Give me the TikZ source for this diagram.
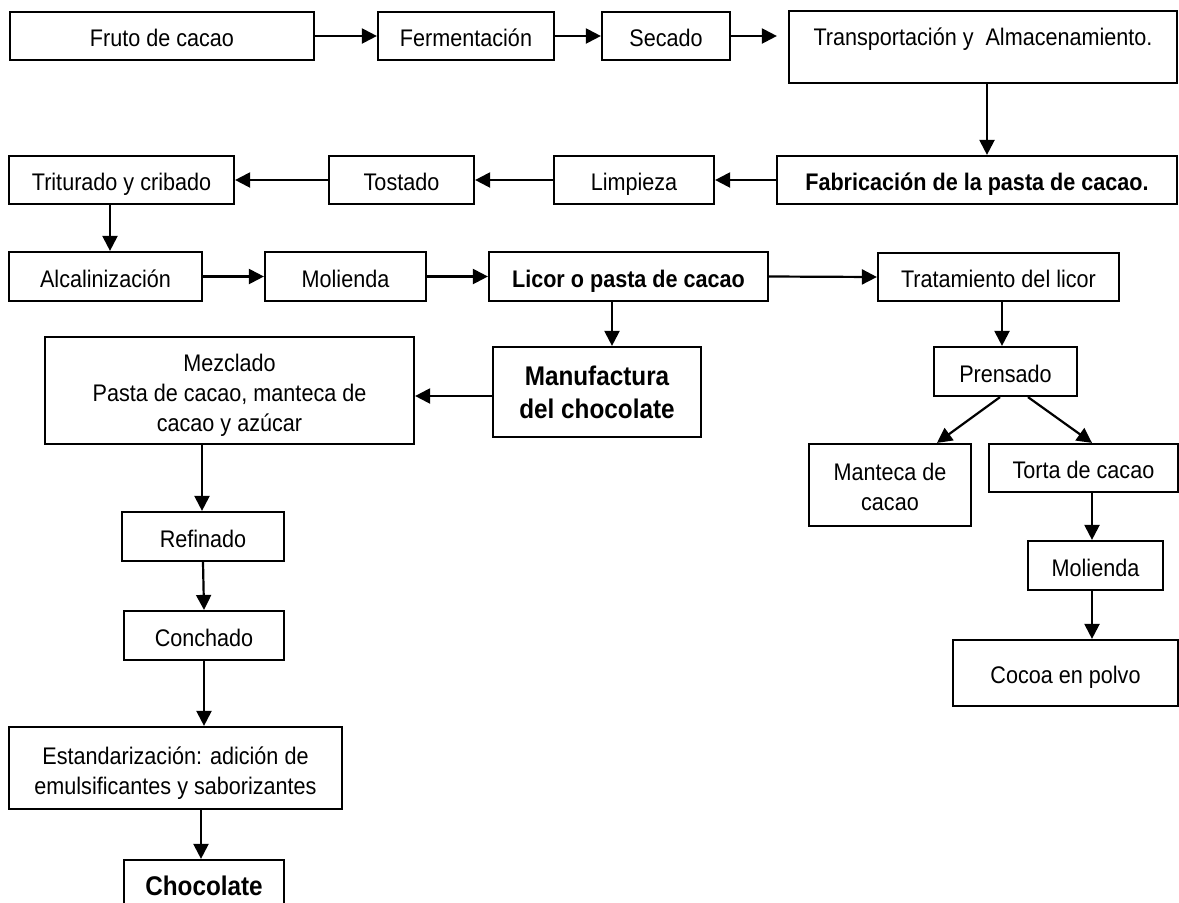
\documentclass[tikz,border=0pt]{standalone}
\usepackage{fontspec}
\setmainfont[FakeStretch=0.9]{Liberation Sans}
\usetikzlibrary{arrows.meta}
\begin{document}
\begin{tikzpicture}[x=1pt,y=-1pt,
  box/.style={draw,line width=2.2pt,rectangle,inner sep=0pt,align=center,
              font=\fontsize{24}{30}\selectfont},
  one/.style={text height=21pt,text depth=0pt},
  bbox/.style={box,one,font=\fontsize{24}{30}\selectfont\bfseries},
  big/.style={box,font=\fontsize{27}{33}\selectfont\bfseries},
  wh/.style 2 args={minimum width=#1pt,minimum height=#2pt},
  arr/.style={line width=2.2pt,-{Triangle[length=15pt,width=15pt]}},
]
\clip (0,0) rectangle (1179,903);

% row 1
\node[box,one,wh={304}{48}] (fruto)  at (162,36)  {Fruto de cacao};
\node[box,one,wh={176}{48}] (ferm)   at (466,36)  {Fermentación};
\node[box,one,wh={128}{48}] (secado) at (666,36)  {Secado};
\node[box,wh={388}{72}] (transp) at (983,47)  {};
\node[one,inner sep=0pt,font=\fontsize{24}{30}\selectfont] (transptxt) at (983,34.7)
  {Transportación y\ \ Almacenamiento.};

% row 2
\node[bbox,wh={400}{48}]    (fabric) at (977,180)   {Fabricación de la pasta de cacao.};
\node[box,one,wh={160}{48}] (limp)   at (634,180)   {Limpieza};
\node[box,one,wh={145}{48}] (tost)   at (401.5,180) {Tostado};
\node[box,one,wh={225}{48}] (trit)   at (121.5,180) {Triturado y cribado};

% row 3
\node[box,one,wh={193}{49}] (alcal) at (105.5,276.5) {Alcalinización};
\node[box,one,wh={161}{49}] (moli1) at (345.5,276.5) {Molienda};
\node[bbox,wh={279}{49}]    (licor) at (628.5,276.5) {Licor o pasta de cacao};
\node[box,one,wh={241}{48}] (trat)  at (998.5,277)   {Tratamiento del licor};

% chocolate branch
\node[big,wh={208}{90}]      (manuf)  at (597,392)     {Manufactura\\del chocolate};
\node[box,wh={369}{107}]     (mezcl)  at (229.5,390.5) {\rule{0pt}{27.5pt}Mezclado\\Pasta de cacao, manteca de\\cacao y azúcar};
\node[box,one,wh={162}{49}]  (refin)  at (203,536.5)   {Refinado};
\node[box,one,wh={160}{49}]  (conch)  at (204,635.5)   {Conchado};
\node[box,wh={333}{82}]      (estand) at (175.5,768)   {\rule{0pt}{27.5pt}Estandarización: adición de\\emulsificantes y saborizantes};
\node[big,one,wh={160}{50}]  (choc)   at (204,885)     {Chocolate};

% liquor treatment branch
\node[box,one,wh={143}{49}] (prens) at (1005.5,371.5) {Prensado};
\node[box,wh={162}{82}]     (mant)  at (890,485)      {\rule{0pt}{21.5pt}Manteca de\\cacao};
\node[box,one,wh={189}{48}] (torta) at (1083.5,468)   {Torta de cacao};
\node[box,one,wh={135}{49}] (moli2) at (1095.5,565.5) {Molienda};
\node[box,one,wh={225}{66}] (cocoa) at (1065.5,673)   {Cocoa en polvo};

% connectors
\draw[arr] (fruto) -- (ferm);
\draw[arr] (ferm) -- (secado);
\draw[arr,shorten >=11pt] (secado) -- (secado -| transp.west);
\draw[arr] ([xshift=4pt]transp.south) -- ([xshift=10pt]fabric.north);
\draw[arr] (fabric) -- (limp);
\draw[arr] (limp) -- (tost);
\draw[arr] (tost) -- (trit);
\draw[arr] ([xshift=-11.5pt]trit.south) -- ([xshift=4.5pt]alcal.north);
\draw[arr] (alcal) -- (moli1);
\draw[arr] (moli1) -- (licor);
\draw[arr] (licor.east) -- (trat.west);
\draw[arr] ([xshift=-16.5pt]licor.south) -- ([xshift=15pt]manuf.north);
\draw[arr] ([yshift=-4pt]manuf.west) -- ([yshift=-5.5pt]mezcl.east);
\draw[arr] ([xshift=-27.5pt]mezcl.south) -- ([xshift=-1pt]refin.north);
\draw[arr] (refin.south) -- (conch.north);
\draw[arr] (conch.south) -- ([xshift=28.5pt]estand.north);
\draw[arr] ([xshift=25.5pt]estand.south) -- ([xshift=-3pt]choc.north);
\draw[arr] ([xshift=3.5pt]trat.south) -- ([xshift=-3.5pt]prens.north);
\draw[arr] ([xshift=-5.5pt]prens.south) -- ([xshift=47pt]mant.north);
\draw[arr] ([xshift=22.5pt]prens.south) -- ([xshift=8.5pt]torta.north);
\draw[arr] ([xshift=8.5pt]torta.south) -- ([xshift=-3.5pt]moli2.north);
\draw[arr] ([xshift=-3.5pt]moli2.south) -- ([xshift=26.5pt]cocoa.north);
\end{tikzpicture}
\end{document}
